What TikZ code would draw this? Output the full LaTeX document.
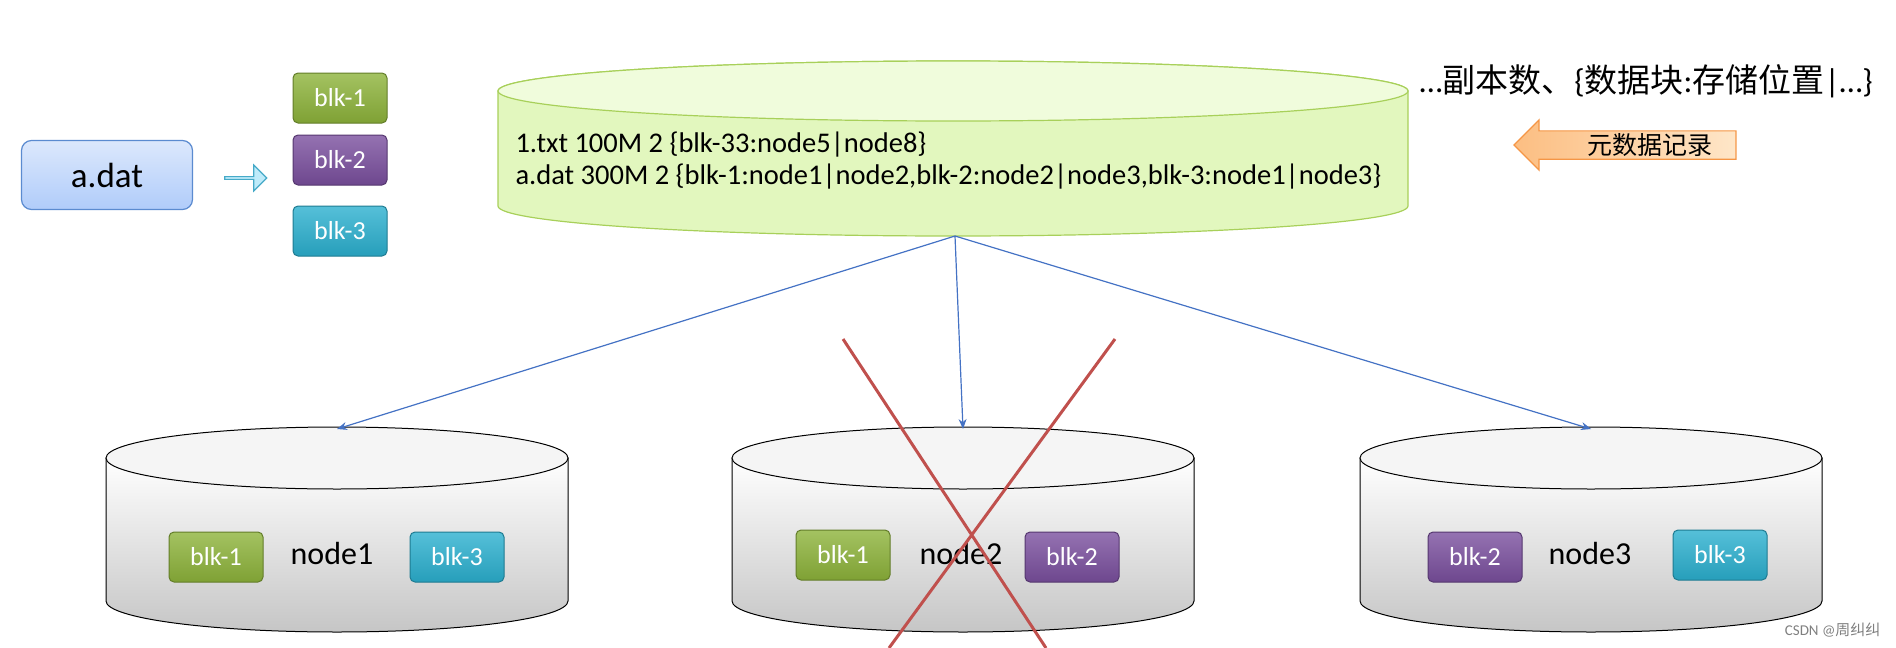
\documentclass[tikz,border=0pt]{standalone}
\usepackage{fontspec}
\setmainfont{Carlito}
\newfontfamily\cjk{Noto Sans CJK SC}
\usetikzlibrary{arrows.meta,shapes.arrows}
\definecolor{gA}{HTML}{8DB33A}\definecolor{pB}{HTML}{7A4F9E}\definecolor{tC}{HTML}{2BB0CF}
\definecolor{adB}{RGB}{91,139,208}\definecolor{adT}{RGB}{220,232,252}\definecolor{adF}{RGB}{176,204,250}
\definecolor{arD}{RGB}{70,170,200}\definecolor{arF}{RGB}{190,235,250}
\definecolor{cyD}{RGB}{168,208,90}\definecolor{cyF}{RGB}{226,247,190}\definecolor{cyT}{RGB}{240,252,220}
\definecolor{orD}{RGB}{245,150,70}\definecolor{orL}{RGB}{252,190,130}\definecolor{orR}{RGB}{254,230,200}
\definecolor{xR}{RGB}{192,80,77}\definecolor{lnk}{RGB}{68,114,196}
\begin{document}
\begin{tikzpicture}[x=1pt,y=-1pt,
 blk/.style={rounded corners=5pt,minimum width=94pt,minimum height=50pt,draw=#1!70!black,line width=1pt,text=white,top color=#1!80!white,bottom color=#1!90!black,font=\fontsize{26}{28}\selectfont,inner sep=0pt},
 lbl/.style={font=\fontsize{32}{34}\selectfont},
 link/.style={draw=lnk,line width=1.2pt,-{Stealth[length=10pt,width=8pt]}},
 disk/.style={draw=black,line width=1pt,top color=white,bottom color=gray!45}]
\useasboundingbox (0,0) rectangle (1896,648);
% a.dat
\node[rounded corners=10pt,draw=adB,line width=1.2pt,top color=adT,bottom color=adF,minimum width=171pt,minimum height=69pt,font=\fontsize{35}{36}\selectfont] (adat) at (107,175) {a.dat};
\node[single arrow,draw=arD,line width=1.2pt,fill=arF,minimum width=26pt,single arrow head extend=5pt,minimum height=42pt,inner sep=0pt] (ar) at (245,178) {};
\node[blk=gA] (b1) at (340,98) {blk-1};
\node[blk=pB] (b2) at (340,160) {blk-2};
\node[blk=tC] (b3) at (340,231) {blk-3};
% top cylinder
\path[draw=cyD,line width=1.2pt,fill=cyF] (498,91) -- (498,206) arc[start angle=180,end angle=0,x radius=455,y radius=30] -- (1408,91) arc[start angle=0,end angle=-180,x radius=455,y radius=30] -- cycle;
\draw[cyD,line width=1.2pt,fill=cyT] (953,91) ellipse[x radius=455,y radius=30];
\node[anchor=west,font=\fontsize{28.5}{30}\selectfont,align=left] (meta) at (512,161) {1.txt 100M 2 \{blk-33:node5|node8\}\\[2pt]a.dat 300M 2 \{blk-1:node1|node2,blk-2:node2|node3,blk-3:node1|node3\}};
\coordinate (nn) at (955,236);
\node[anchor=west,font=\fontsize{33}{35}\selectfont] (fmt) at (1416,81) {…{\cjk 副本数、}\{{\cjk 数据块}:{\cjk 存储位置}|…\}};
\node[single arrow,shape border rotate=180,draw=orD,line width=1.2pt,left color=orL,right color=orR,minimum width=36pt,single arrow head extend=11pt,minimum height=222pt,inner sep=2pt,font=\cjk\fontsize{25}{27}\selectfont] (md) at (1632,145) {\hspace{36pt}元数据记录};
% lower disks
\foreach \n/\cx in {d1/337,d2/963,d3/1591}{
 \path[disk] (\cx-231,458) -- (\cx-231,601) arc[start angle=180,end angle=0,x radius=231,y radius=31] -- (\cx+231,458) -- cycle;
 \draw[line width=1pt,fill=gray!8] (\cx,458) ellipse[x radius=231,y radius=31];
 \coordinate (\n) at (\cx,429);
}
\node[lbl] (n1) at (332,553) {node1};
\node[blk=gA] (n1a) at (216,557) {blk-1};
\node[blk=tC] (n1b) at (457,557) {blk-3};
\node[lbl] (n2) at (961,553) {node2};
\node[blk=gA] (n2a) at (843,555) {blk-1};
\node[blk=pB] (n2b) at (1072,557) {blk-2};
\node[lbl] (n3) at (1590,553) {node3};
\node[blk=pB] (n3a) at (1475,557) {blk-2};
\node[blk=tC] (n3b) at (1720,555) {blk-3};
\draw[link] (nn) -- (d1);
\draw[link] (nn) -- (d2);
\draw[link] (nn) -- (d3);
% cross
\coordinate (x1) at (843,339);\coordinate (x2) at (1046,648);
\coordinate (x3) at (1115,339);\coordinate (x4) at (889,648);
\draw[xR,line width=3pt] (x1) -- (x2) (x3) -- (x4);
\node[anchor=east,text=gray,font=\fontsize{15}{16}\selectfont] (wm) at (1884,630) {CSDN @{\cjk 周纠纠}};
\end{tikzpicture}
\end{document}
